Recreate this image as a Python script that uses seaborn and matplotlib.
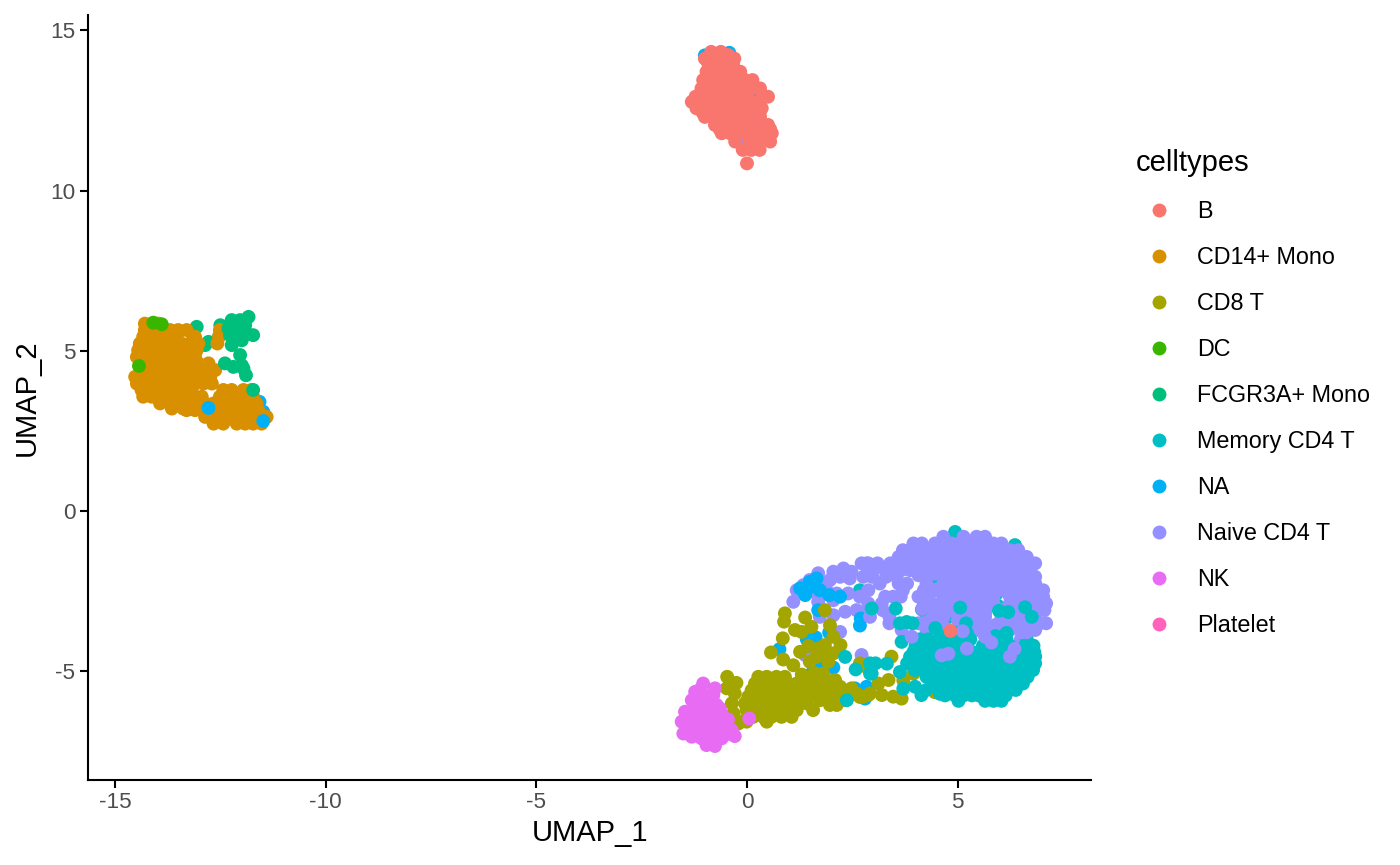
import matplotlib
matplotlib.use("Agg")
import matplotlib.pyplot as plt
import pandas as pd
import seaborn as sns

celltypes = ["B", "CD14+ Mono", "CD8 T", "DC", "FCGR3A+ Mono", "Memory CD4 T",
             "NA", "Naive CD4 T", "NK", "Platelet"]
colors = ["#F8766D", "#D89000", "#A3A500", "#39B600", "#00BF7D", "#00BFC4",
          "#00B0F6", "#9590FF", "#E76BF3", "#FF62BC"]
x_ticks = [-15, -10, -5, 0, 5]
y_ticks = [-5, 0, 5, 10, 15]

# each row: (UMAP_2, [UMAP_1 values])
b_rows = [(14.33, [-0.85, -0.62]), (14.23, [-0.84, -0.62, -0.44]), (14.12, [-1.0, -0.3]),
          (13.97, [-0.92, -0.72, -0.52, -0.33]),
          (13.71, [-0.96, -0.76, -0.56, -0.36, -0.16]),
          (13.45, [-1.04, -0.84, -0.64, -0.44, -0.24, -0.04, 0.13]),
          (13.19, [-1.08, -0.88, -0.68, -0.48, -0.28, -0.08, 0.12, 0.31]),
          (13.06, [-1.0, -0.75, -0.5, -0.25, 0.0]),
          (12.93, [-1.22, -1.0, -0.8, -0.6, -0.4, -0.2, 0.0, 0.36, 0.5]),
          (12.77, [-1.31, -1.1, -0.9, -0.7, -0.5, -0.3, -0.1, 0.1, 0.3]),
          (12.57, [-1.2, -1.0, -0.8, -0.6, -0.4, -0.2, 0.0, 0.15, 0.35]),
          (12.43, [-1.05, -0.75, -0.5, -0.25, 0.1, 0.3]),
          (12.30, [-1.0, -0.8, -0.6, -0.4, -0.2, 0.0, 0.2, 0.31]),
          (12.05, [-0.76, -0.56, -0.36, -0.16, 0.04, 0.24, 0.5]),
          (11.92, [-0.65, -0.45, -0.05, 0.15, 0.35, 0.55]),
          (11.79, [-0.6, -0.4, -0.2, 0.0, 0.2, 0.4, 0.59]),
          (11.53, [-0.28, 0.06, 0.25, 0.55]), (11.27, [-0.1, 0.1, 0.3]), (10.85, [0.0])]
na_under_b = [(0.19, 12.88), (-1.0, 14.22), (-0.42, 14.3)]
naive_under_b = [(-0.1, 11.55)]

mono_rows = [(5.85, [-14.29, -13.97]), (5.65, [-14.29, -14.09, -13.89, -13.69, -13.50, -13.30, -12.51]),
             (5.44, [-14.33, -14.13, -13.93, -13.73, -13.53, -13.14, -13.10, -12.53]),
             (5.23, [-14.41, -14.21, -14.01, -13.81, -13.61, -13.42, -13.22, -13.02, -12.57]),
             (5.02, [-14.45, -14.25, -14.05, -13.85, -13.65, -13.45, -13.26, -13.06]),
             (4.81, [-14.48, -14.29, -14.09, -13.89, -13.69, -13.50, -13.30, -13.10]),
             (4.61, [-14.41, -14.21, -14.01, -13.81, -13.61, -13.42, -13.22, -13.02, -12.78]),
             (4.40, [-14.37, -14.17, -13.97, -13.77, -13.57, -13.38, -13.18, -12.98, -12.74, -12.62]),
             (4.19, [-14.52, -14.33, -14.13, -13.93, -13.73, -13.53, -13.34, -13.14, -12.94, -12.74]),
             (3.98, [-14.48, -14.29, -14.09, -13.89, -13.69, -13.50, -13.30, -13.10, -12.90, -12.70]),
             (3.78, [-14.37, -14.17, -13.97, -13.77, -13.57, -13.38, -13.18,
                     -12.43, -12.23, -11.95, -11.76]),
             (3.57, [-14.33, -14.13, -13.93, -13.73, -13.53, -13.34, -13.14, -12.94,
                     -12.51, -12.31, -12.11, -11.91, -11.72]),
             (3.36, [-13.93, -13.65, -13.45, -13.26, -13.06, -12.86,
                     -12.66, -12.43, -12.23, -12.03, -11.83, -11.64]),
             (3.20, [-13.65, -13.38, -13.18, -12.98, -12.78, -12.58]),
             (3.15, [-13.30, -13.10, -12.90, -12.58, -12.39, -12.19, -11.99, -11.80, -11.60]),
             (2.94, [-12.86, -12.66, -12.47, -12.27, -12.07, -11.87, -11.68, -11.40]),
             (2.73, [-12.66, -12.43, -12.11, -11.91, -11.72, -11.52])]
fcgr_back = [(-13.06, 5.75), (-12.50, 5.80), (-12.53, 5.45), (-12.78, 5.28), (-12.86, 5.18)]
fcgr_front = [(-12.23, 5.96), (-12.03, 5.96), (-11.83, 6.06), (-12.31, 5.70), (-12.11, 5.75),
              (-11.91, 5.80), (-12.27, 5.49), (-12.07, 5.49), (-11.87, 5.54), (-11.72, 5.49),
              (-11.99, 5.33), (-12.23, 5.18), (-12.03, 4.87), (-12.39, 4.61), (-12.19, 4.50),
              (-11.99, 4.55), (-11.95, 4.45), (-11.89, 4.24), (-11.72, 3.78)]
dc_points = [(-14.09, 5.88), (-13.89, 5.83), (-14.43, 4.53)]
platelet_points = [(-14.33, 4.30)]
na_under_mono = [(-11.57, 3.41), (-11.48, 3.10)]
na_over_mono = [(-12.78, 3.22), (-11.48, 2.81)]

nk_points = [(-1.04, -5.38), (-1.23, -5.64), (-0.76, -5.53), (-1.31, -5.90), (-1.04, -5.79),
             (-1.47, -6.26), (-1.23, -6.10), (-1.00, -6.10), (-0.72, -6.05), (-0.90, -5.90),
             (-1.55, -6.57), (-1.31, -6.42), (-1.08, -6.42), (-0.84, -6.37), (-0.60, -6.31),
             (-1.51, -6.94), (-1.27, -6.73), (-1.04, -6.73), (-0.80, -6.68), (-0.56, -6.73),
             (-0.36, -6.83), (-0.29, -7.02), (-1.31, -7.04), (-1.08, -7.09), (-0.84, -7.09),
             (-0.60, -7.09), (-0.96, -7.30), (-0.76, -7.33), (-1.31, -6.73), (-0.60, -6.55),
             (-1.15, -6.25), (-0.9, -6.2), (-0.65, -6.15), (-1.43, -6.7), (-1.2, -6.95),
             (-0.95, -6.95), (-0.7, -6.9), (-0.45, -6.95), (-1.4, -6.5), (-0.95, -6.55),
             (-0.7, -6.5), (-0.45, -6.5), (-1.15, -5.95), (-0.8, -5.75), (-1.1, -5.55)]
nk_front = [(0.055, -6.47)]

cd8_rows = [(-5.17, [0.27, 0.47, 0.70, 0.90]),
            (-5.38, [0.19, 0.39, 0.58, 0.78, 0.98, 1.18]),
            (-5.59, [0.11, 0.31, 0.51, 0.70, 0.90, 1.10, 1.30]),
            (-5.79, [0.03, 0.23, 0.43, 0.62, 0.82, 1.02, 1.22, 1.42]),
            (-6.00, [-0.05, 0.15, 0.35, 0.55, 0.74, 0.94, 1.14, 1.42]),
            (-6.21, [-0.01, 0.19, 0.39, 0.58, 0.78, 0.98, 1.18, 1.57]),
            (-6.42, [0.15, 0.39, 0.58, 0.82, 1.06]),
            (-6.57, [-0.13, 0.47]),
            (-5.07, [1.81]), (-5.27, [1.49, 1.69, 1.89, 2.09]),
            (-5.48, [1.42, 1.61, 1.81, 2.01, 2.21]),
            (-5.69, [1.34, 1.53, 1.73, 1.93, 2.13, 2.37]),
            (-5.90, [1.73, 1.93, 2.13, 2.33]), (-6.05, [1.97, 2.13])]
cd8_points = [(-0.47, -5.17), (-0.25, -5.36), (-0.48, -5.53), (-0.29, -5.69), (-0.80, -5.69),
              (-0.36, -6.00), (-0.32, -6.31), (-0.21, -6.63), (-0.01, -6.57),
              (0.90, -3.19), (0.88, -3.45), (1.38, -3.32), (1.14, -3.71), (1.30, -3.77),
              (1.53, -3.61), (1.97, -3.56), (1.85, -3.09), (0.85, -3.97), (0.57, -4.41),
              (0.86, -4.63), (1.10, -4.81), (1.26, -4.39), (1.46, -4.21), (1.69, -4.29),
              (1.85, -4.18), (2.05, -3.92), (2.22, -4.18), (1.49, -4.70), (1.81, -4.49),
              (2.05, -4.44), (1.93, -4.70), (1.6, -5.05), (1.3, -5.1), (1.65, -4.55),
              (2.60, -5.69), (2.76, -5.79), (2.92, -5.69), (2.48, -5.53),
              (3.43, -4.54), (2.80, -4.84), (2.68, -4.75), (3.12, -5.38), (3.36, -5.27),
              (3.71, -5.28), (2.88, -5.74), (3.20, -5.74), (3.47, -5.79), (3.67, -5.85),
              (2.68, -5.80), (3.95, -5.07), (4.46, -5.65)]

naive_rows = [(-0.80, [4.66, 5.14, 5.45, 5.65]),
              (-1.01, [3.95, 4.15, 4.46, 4.66, 4.86, 5.06, 5.25, 5.45, 5.65, 5.85, 6.04]),
              (-1.22, [3.70, 3.87, 4.07, 4.26, 4.46, 4.66, 4.86, 5.06, 5.25, 5.45, 5.65, 5.85, 6.04, 6.24, 6.44]),
              (-1.43, [3.60, 3.87, 4.07, 4.26, 4.46, 4.66, 4.86, 5.06, 5.25, 5.45, 5.65, 5.85, 6.04, 6.24, 6.44, 6.64]),
              (-1.63, [2.84, 3.10, 3.40, 3.67, 3.87, 4.07, 4.26, 4.46, 4.66, 4.86, 5.06, 5.25, 5.65, 5.85, 6.04, 6.24, 6.44, 6.64, 6.84]),
              (-1.84, [2.88, 3.00, 3.28, 3.47, 3.67, 3.87, 4.07, 4.26, 4.66, 4.86, 5.06, 5.25, 5.65, 5.85, 6.04, 6.24, 6.44, 6.64]),
              (-2.05, [2.76, 2.97, 3.30, 3.55, 4.26, 4.66, 4.86, 5.06, 5.25, 5.45, 5.65, 5.85, 6.04, 6.64, 6.84]),
              (-2.26, [3.15, 3.60, 3.80, 4.26, 4.66, 4.86, 5.06, 5.25, 5.45, 5.65, 5.85, 6.04, 6.44, 6.64, 6.84]),
              (-2.47, [2.88, 3.70, 4.20, 4.46, 4.66, 4.86, 5.06, 5.25, 5.45, 5.65, 6.10, 6.44, 6.64, 7.03]),
              (-2.67, [3.28, 3.47, 3.65, 4.07, 4.26, 4.66, 5.06, 5.25, 5.65, 5.85, 6.24, 6.44, 6.84, 7.03]),
              (-2.88, [2.88, 3.20, 4.20, 4.40, 4.66, 5.06, 5.45, 5.85, 6.24, 6.64, 7.03, 7.10]),
              (-3.09, [3.22, 4.30, 4.50, 4.86, 5.25, 5.45, 5.65, 6.04, 6.44, 6.84, 7.06]),
              (-3.30, [2.92, 3.38, 4.26, 4.66, 5.06, 5.65, 6.04, 6.24, 6.64, 6.84]),
              (-3.50, [3.38, 4.07, 4.46, 5.25, 5.65, 6.24, 6.64, 6.95, 7.10]),
              (-3.71, [3.67, 4.26, 5.45, 5.85, 6.24, 6.64, 6.84])]
naive_fill = [(5.45, -1.7), (6.1, -2.0), (6.3, -2.15), (6.25, -2.5), (5.9, -2.35), (5.85, -2.65),
              (5.45, -2.7), (4.85, -2.6), (4.9, -2.85), (5.25, -2.9), (5.65, -3.2), (6.1, -3.25),
              (6.45, -2.9), (6.65, -2.7), (6.45, -3.3), (6.7, -3.55), (5.0, -3.4), (5.45, -3.35),
              (4.5, -3.4), (5.9, -3.55), (6.1, -3.7), (6.45, -3.6), (5.2, -3.7), (4.7, -3.65),
              (6.5, -4.0), (3.9, -1.7), (4.07, -2.0), (4.46, -1.95), (4.48, -2.45)]
naive_points = [(1.10, -2.83), (1.18, -2.47), (1.34, -2.31), (1.49, -2.15), (1.69, -1.94),
                (2.05, -1.89), (2.29, -1.79), (2.48, -1.89), (2.72, -1.63), (2.88, -1.63),
                (1.73, -2.21), (1.97, -2.15), (2.21, -2.05), (2.44, -2.10), (1.89, -2.47),
                (1.65, -2.57), (2.13, -2.57), (2.40, -2.57), (2.68, -2.67), (2.05, -2.78),
                (1.69, -2.83), (2.33, -3.14), (2.60, -3.09), (2.84, -3.09), (2.21, -3.77),
                (2.72, -4.49), (1.73, -3.30), (2.05, -3.25), (1.38, -4.49)]
naive_front = [(3.91, -3.92), (5.65, -3.92), (6.24, -4.54), (4.62, -4.50), (4.78, -4.45),
               (5.22, -4.29), (6.52, -3.78), (6.64, -3.78), (4.16, -3.05), (5.80, -4.10),
               (5.12, -3.75), (6.35, -4.30)]

na_low = [(1.38, -2.62), (1.53, -2.36), (1.73, -2.47), (1.26, -2.41), (1.65, -2.10),
          (1.95, -2.62), (2.21, -2.67), (1.69, -3.09), (2.70, -3.35), (1.95, -3.79),
          (0.77, -4.31), (1.42, -4.00), (1.63, -3.94), (2.05, -4.88), (1.53, -5.07),
          (1.73, -4.75), (2.56, -5.53), (2.37, -5.85), (2.84, -5.48), (1.73, -5.69),
          (1.49, -2.21), (2.68, -3.57), (2.80, -5.85), (5.02, -5.43)]
b_low = [(1.26, -6.00), (6.08, -4.29), (0.44, -6.50)]
b_front = [(4.83, -3.74)]

memory_back = [(4.94, -0.65), (6.36, -1.06), (5.53, -1.79), (4.46, -2.20), (6.28, -2.20),
               (5.93, -2.57), (4.90, -2.73), (5.45, -2.95), (6.60, -2.45), (4.80, -3.30),
               (6.20, -1.95), (5.70, -2.95), (6.92, -2.90), (2.68, -2.47), (2.92, -3.04),
               (4.46, -3.20), (5.95, -2.95), (6.42, -1.20), (4.94, -3.10), (6.10, -3.45)]
memory_rows = [(-3.80, [4.98, 5.22, 6.16]),
               (-4.00, [4.10, 4.30, 4.82, 5.06, 5.30, 6.16, 6.64]),
               (-4.20, [4.00, 4.20, 4.40, 4.60, 4.80, 5.00, 5.20, 5.60, 5.85, 6.04, 6.24, 6.60, 6.80]),
               (-4.40, [3.95, 4.15, 4.35, 4.55, 4.75, 4.95, 5.15, 5.35, 5.55, 5.75, 5.95, 6.35, 6.55, 6.82]),
               (-4.54, [3.87, 4.07, 4.26, 4.46, 4.66, 4.86, 5.06, 5.45, 5.65, 5.85, 6.04, 6.24, 6.44, 6.64, 6.84]),
               (-4.75, [3.80, 4.00, 4.20, 4.40, 4.60, 4.85, 5.10, 5.30, 5.50, 5.70, 5.90, 6.10, 6.30, 6.50, 6.70, 6.84]),
               (-4.96, [3.99, 4.19, 4.39, 4.59, 4.79, 4.99, 5.19, 5.39, 5.59, 5.79, 5.99, 6.19, 6.39, 6.59, 6.79]),
               (-5.17, [4.26, 4.46, 4.66, 4.86, 5.06, 5.26, 5.46, 5.66, 5.86, 6.06, 6.26, 6.46, 6.66]),
               (-5.38, [4.42, 4.62, 4.82, 5.22, 5.42, 5.62, 5.82, 6.02, 6.22, 6.42, 6.55]),
               (-5.58, [4.58, 4.78, 4.98, 5.18, 5.38, 5.58, 5.78, 5.98, 6.18, 6.38]),
               (-5.75, [4.70, 4.94, 5.14, 5.34, 5.50, 5.74, 5.94, 6.14]),
               (-5.92, [5.02, 5.65, 5.85, 6.04])]
memory_points = [(2.33, -4.55), (2.58, -4.94), (2.92, -4.75), (2.92, -5.07), (2.37, -5.90),
                 (2.96, -3.04), (3.53, -3.04), (3.63, -3.50), (3.79, -3.46), (3.67, -4.08),
                 (4.47, -3.65), (5.06, -3.01), (5.98, -3.11), (6.76, -3.30), (4.15, -3.07),
                 (2.96, -5.07), (3.32, -4.76), (3.63, -5.02), (3.99, -5.48), (4.14, -5.74),
                 (4.26, -5.58), (3.71, -5.54), (4.58, -5.70), (3.05, -4.75),
                 (3.93, -3.50), (5.20, -3.50), (4.60, -3.90), (5.90, -3.90), (6.20, -3.15), (6.60, -3.00)]


def expand(rows):
    return [(x, y) for y, xs in rows for x in xs]


# layers in drawing order: later rows paint over earlier rows
layers = [("NA", na_under_b), ("Naive CD4 T", naive_under_b), ("B", expand(b_rows)),
          ("Platelet", platelet_points), ("NA", na_under_mono), ("FCGR3A+ Mono", fcgr_back),
          ("CD14+ Mono", expand(mono_rows)), ("NA", na_over_mono), ("DC", dc_points),
          ("FCGR3A+ Mono", fcgr_front),
          ("B", b_low), ("Memory CD4 T", memory_back),
          ("Naive CD4 T", naive_points), ("NA", na_low),
          ("CD8 T", cd8_points), ("CD8 T", expand(cd8_rows)), ("NK", nk_points), ("NK", nk_front),
          ("Naive CD4 T", expand(naive_rows)), ("Naive CD4 T", naive_fill),
          ("Memory CD4 T", expand(memory_rows)),
          ("Memory CD4 T", memory_points),
          ("Naive CD4 T", naive_front), ("B", b_front)]

df = pd.DataFrame([(cell, x, y) for cell, pts in layers for x, y in pts],
                  columns=["celltypes", "UMAP_1", "UMAP_2"])

sns.set_style("ticks", {"text.color": "black"})
plt.rcParams["font.family"] = ["Liberation Sans", "DejaVu Sans"]

fig = plt.figure(figsize=(14, 8.65), dpi=100)
ax = fig.add_axes([88 / 1400, (865 - 780) / 865, (1091 - 88) / 1400, (780 - 15) / 865])
sns.scatterplot(data=df, x="UMAP_1", y="UMAP_2", hue="celltypes", hue_order=celltypes,
                palette=dict(zip(celltypes, colors)), s=100, linewidth=0, alpha=1, ax=ax,
                legend="full")
ax.set_xlim(-15.64, 8.165)
ax.set_ylim(-8.39, 15.48)
ax.set_xticks(x_ticks)
ax.set_yticks(y_ticks)
ax.set_xticklabels([str(v) for v in x_ticks])
ax.set_yticklabels([str(v) for v in y_ticks])
ax.tick_params(axis="both", labelsize=16.2, labelcolor="#4D4D4D", width=1.5, length=5.5, color="black")
ax.set_xlabel("UMAP_1", fontsize=21, color="black", labelpad=4)
ax.set_ylabel("UMAP_2", fontsize=21, color="black", labelpad=7)
sns.despine(ax=ax)
for side in ("left", "bottom"):
    ax.spines[side].set_linewidth(1.5)
    ax.spines[side].set_color("black")

sns.move_legend(ax, "upper left", bbox_to_anchor=(1.045, 0.825), frameon=False,
                title="celltypes", fontsize=16.8, title_fontsize=21, labelspacing=0.985,
                handletextpad=0.62, alignment="left", borderaxespad=0, borderpad=0)
fig.savefig("out.png", dpi=100)
